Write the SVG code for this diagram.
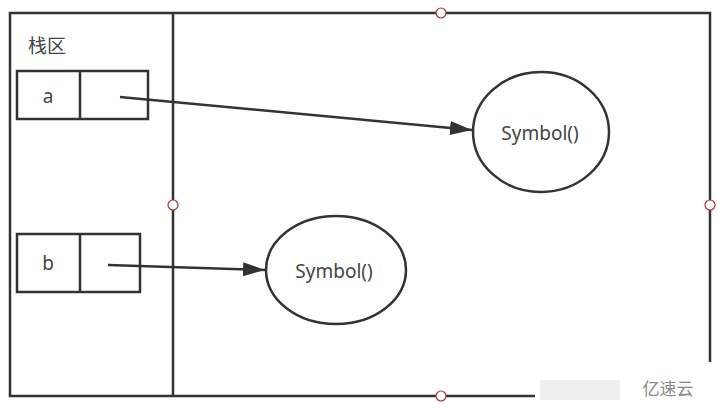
<svg xmlns="http://www.w3.org/2000/svg" width="718" height="412" viewBox="0 0 718 412">
<style>
.ln{fill:none;stroke:#333;stroke-width:2.5}
.bx{fill:#fff;stroke:#333;stroke-width:2.5}
.t{font-family:"Noto Sans","Noto Sans CJK SC",sans-serif;font-size:19px;fill:#444}
.h{fill:#fff;stroke:#a33;stroke-width:1.2}
</style>
<defs>
<marker id="ah2" viewBox="0 0 22 14" refX="22" refY="7" markerWidth="22" markerHeight="14" orient="auto" markerUnits="userSpaceOnUse">
<path d="M0,0 L22,7 L0,14 Z" fill="#333"/>
</marker>
</defs>
<rect width="718" height="412" fill="#fff"/>
<g id="frame">
<rect class="ln" x="10" y="13" width="700" height="383"/>
<line class="ln" x1="173" y1="13" x2="173" y2="396"/>
<text class="t" x="28" y="53">栈区</text>
</g>
<g id="node-a">
<rect class="bx" x="17" y="71" width="131" height="48"/>
<line class="ln" x1="80" y1="71" x2="80" y2="119"/>
<text class="t" x="48" y="103" text-anchor="middle">a</text>
</g>
<g id="node-b">
<rect class="bx" x="17" y="234" width="123" height="58"/>
<line class="ln" x1="80" y1="234" x2="80" y2="292"/>
<text class="t" x="48" y="270" text-anchor="middle">b</text>
</g>
<g id="symbol1">
<ellipse class="bx" cx="541" cy="132" rx="68" ry="60"/>
<text class="t" x="540" y="140" text-anchor="middle">Symbol()</text>
</g>
<g id="symbol2">
<ellipse class="bx" cx="336" cy="270" rx="70" ry="54"/>
<text class="t" x="334" y="278" text-anchor="middle">Symbol()</text>
</g>
<g id="connectors">
<line class="ln" x1="120" y1="97" x2="472" y2="130" marker-end="url(#ah2)"/>
<line class="ln" x1="108" y1="265" x2="265" y2="270" marker-end="url(#ah2)"/>
</g>
<g id="handles">
<circle class="h" cx="441" cy="13" r="5"/>
<circle class="h" cx="173" cy="205" r="5"/>
<circle class="h" cx="710" cy="205" r="5"/>
<circle class="h" cx="441" cy="396" r="5"/>
</g>
<g id="watermark">
<rect x="535" y="362" width="183" height="50" fill="#fff"/>
<rect x="540" y="380" width="80" height="20" fill="#eee"/>
<text x="668" y="395" text-anchor="middle" font-family="Noto Sans CJK SC,sans-serif" font-size="17" fill="#888">亿速云</text>
</g>
</svg>
